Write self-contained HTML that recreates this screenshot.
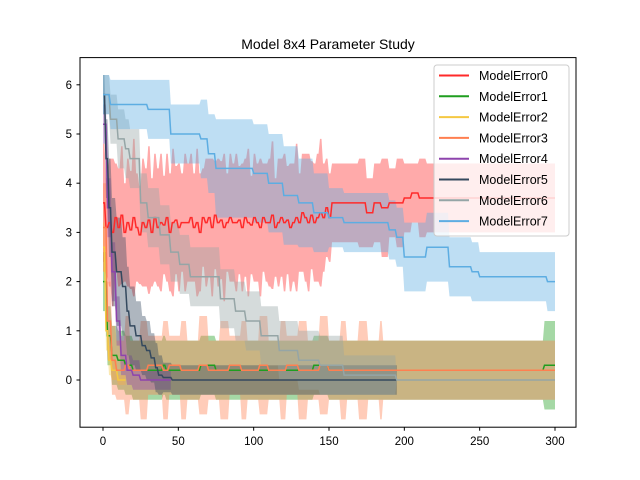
<!DOCTYPE html>
<html><head><meta charset="utf-8"><style>
body{margin:0;background:#fff}
svg{display:block;font-family:"Liberation Sans","DejaVu Sans",sans-serif}
</style></head><body>
<svg id="chart" width="640" height="480">
<rect width="640" height="480" fill="#fff"/>
<text x="328" y="49" text-anchor="middle" font-size="14">Model 8x4 Parameter Study</text>
<g id="bands"></g><g id="lines"></g>
<rect x="80" y="57.6" width="496" height="369.6" fill="none" stroke="#000" stroke-width="1"/>
<g id="ticks" font-size="11.5"></g>
<g id="legend"></g>
</svg>
<script>
const seriesNames=["ModelError0","ModelError1","ModelError2","ModelError3","ModelError4","ModelError5","ModelError6","ModelError7"];
const seriesColors=["#ff2a2a","#1f9e1f","#f5c842","#ff7f50","#8e44ad","#34495e","#95a5a6","#5dade2"];
const xTicks=[0,50,100,150,200,250,300];
const yTicks=[0,1,2,3,4,5,6];
// ModelError0 early part: values every 2 iterations from 0 to 150
const s0early=[3.6,3.1,3.2,3.0,3.3,3.1,3.35,3.0,3.2,3.05,3.3,3.1,2.95,3.2,3.1,3.25,3.0,3.3,3.1,3.2,3.15,3.3,3.0,3.2,3.25,3.1,3.2,3.2,3.2,3.3,3.1,3.2,3.0,3.3,3.2,3.3,3.1,3.35,3.2,3.25,3.1,3.2,3.3,3.2,3.2,3.25,3.1,3.3,3.2,3.15,3.3,3.2,3.1,3.3,3.2,3.2,3.35,3.1,3.2,3.3,3.2,3.25,3.1,3.2,3.3,3.2,3.4,3.3,3.2,3.35,3.2,3.3,3.4,3.3,3.5,3.3];
const s0earlyStd=[1.2,1.0,1.3,1.5,1.1,1.2,1.4,1.0,1.3,1.2,1.6,1.1,1.0,1.3,1.2,1.5,1.1,1.3,1.2,1.4,1.0,1.3,1.2,1.5,1.1,1.3,1.0,1.4,1.2,1.3,1.1,1.5,1.2,1.0,1.3,1.2,1.4,1.1,1.3,1.2,1.5,1.0,1.3,1.2,1.4,1.1,1.3,1.2,1.5,1.0,1.3,1.2,1.4,1.1,1.2,1.3,1.5,1.0,1.3,1.2,1.4,1.1,1.3,1.2,1.5,1.0,1.2,1.3,1.4,1.1,1.2,1.3,1.5,1.1,1.0,0.9];
const s0tailX=[152,170,175,180,185,190,195,200,205,210,215,300];
const s0tailM=[3.6,3.6,3.4,3.6,3.5,3.6,3.6,3.7,3.8,3.7,3.7,3.7];
const s0tailS=[0.8,0.9,0.7,0.8,1.0,0.7,0.9,0.7,0.6,0.8,0.7,0.7];
const s1x=[0,3,6,10,15,20,40,42,45,60,65,75,100,120,140,150,290,293,300];
const s1m=[2.0,0.9,0.5,0.4,0.3,0.2,0.3,0.2,0.2,0.2,0.3,0.2,0.2,0.2,0.3,0.2,0.2,0.3,0.3];
const s1s=[0.6,0.6,0.6,0.6,0.6,0.6,0.6,0.6,0.6,0.6,0.6,0.6,0.6,0.6,0.6,0.6,0.6,0.9,0.9];
const s2x=[0,2,4,6,10,15];
const s2m=[2.7,1.0,0.4,0.2,0.0,0.0];
const s2s=[0.5,0.4,0.3,0.2,0.1,0.1];
const s3x=[0,3,6,9,15,18,25,30,40,44,52,56,64,70,78,84,92,96,104,110,118,122,130,136,144,150,158,162,170,176,184,186,300];
const s3m=[3.1,1.2,0.4,0.2,0.3,0.2,0.2,0.3,0.2,0.3,0.2,0.2,0.3,0.2,0.2,0.3,0.2,0.2,0.3,0.2,0.2,0.3,0.2,0.2,0.3,0.2,0.2,0.2,0.2,0.2,0.2,0.2,0.2];
const s3s=[0.9,0.8,0.7,0.6,1.0,0.6,1.0,0.6,1.0,0.6,1.0,0.6,1.0,0.6,1.0,0.6,1.0,0.6,1.0,0.6,1.0,0.6,1.0,0.6,1.0,0.6,1.0,0.6,1.0,0.6,1.0,0.6,0.6];
const s4x=[0,3,6,9,12,16,20,25,45];
const s4m=[5.2,3.5,2.2,1.2,0.5,0.2,0.1,0.0,0.0];
const s4s=[0.4,0.6,0.6,0.5,0.4,0.3,0.3,0.2,0.2];
const s5x=[0,2,4,6,9,13,16,18,22,26,29,32,35,37,40,46,195];
const s5m=[5.8,4.5,3.5,2.6,2.2,1.9,1.4,1.1,0.9,0.7,0.6,0.45,0.25,0.1,0.05,0.0,0.0];
const s5s=[0.4,0.8,1.0,1.1,1.1,1.0,0.9,0.8,0.7,0.6,0.6,0.5,0.5,0.4,0.3,0.3,0.3];
const s6x=[0,5,10,15,18,25,30,38,45,51,58,68,78,88,95,105,117,130,144,160,195,300];
const s6m=[5.8,5.3,4.9,4.7,4.5,3.6,3.3,2.95,2.6,2.35,2.1,2.1,1.65,1.4,1.2,0.9,0.6,0.4,0.3,0.1,0.0,0.0];
const s6s=[0.4,0.5,0.6,0.6,0.6,0.6,0.6,0.6,0.6,0.6,0.6,0.6,0.6,0.6,0.6,0.6,0.6,0.6,0.6,0.4,0.0,0.0];
const s7x=[0,5,30,45,65,70,75,100,110,120,130,140,150,160,180,190,195,200,215,230,235,245,250,295,300];
const s7m=[5.8,5.6,5.5,5.0,4.9,4.6,4.3,4.2,4.0,3.75,3.6,3.4,3.3,3.2,3.2,3.05,2.9,2.5,2.7,2.3,2.3,2.2,2.1,2.0,2.0];
const s7s=[0.4,0.5,0.6,0.6,0.8,0.8,1.0,1.0,1.0,1.0,0.9,0.8,0.6,0.6,0.6,0.6,0.6,0.7,0.7,0.6,0.6,0.6,0.5,0.6,0.6];
const s0x=s0early.map((v,i)=>i*2).concat(s0tailX);
const s0m=s0early.concat(s0tailM);
const s0s=s0earlyStd.concat(s0tailS);
const allX=[s0x,s1x,s2x,s3x,s4x,s5x,s6x,s7x],allM=[s0m,s1m,s2m,s3m,s4m,s5m,s6m,s7m],allS=[s0s,s1s,s2s,s3s,s4s,s5s,s6s,s7s];
const NS="http://www.w3.org/2000/svg";
const X=v=>103+v*(452/300), Y=v=>380-v*49.2;
const bands=document.getElementById('bands'),lines=document.getElementById('lines'),ticks=document.getElementById('ticks'),legend=document.getElementById('legend');
function dense(xs,vs){const out=[];const end=xs[xs.length-1];let k=0;for(let x=xs[0];x<=end;x++){while(k<xs.length-1&&xs[k+1]<=x)k++;out.push([x,vs[k]]);}return out;}
for(let i=0;i<8;i++){
  const m=dense(allX[i],allM[i]),s=dense(allX[i],allS[i]);
  const up=m.map((p,j)=>X(p[0]).toFixed(1)+','+Y(p[1]+s[j][1]).toFixed(1));
  const lo=m.map((p,j)=>X(p[0]).toFixed(1)+','+Y(p[1]-s[j][1]).toFixed(1)).reverse();
  const b=document.createElementNS(NS,'polygon');
  b.setAttribute('points',up.concat(lo).join(' '));
  b.setAttribute('fill',seriesColors[i]);b.setAttribute('fill-opacity','0.4');b.setAttribute('stroke','none');
  
  
  bands.appendChild(b);
  const l=document.createElementNS(NS,'polyline');
  l.setAttribute('points',m.map(p=>X(p[0]).toFixed(1)+','+Y(p[1]).toFixed(1)).join(' '));
  l.setAttribute('fill','none');l.setAttribute('stroke',seriesColors[i]);l.setAttribute('stroke-width','1.5');
  
  
  lines.appendChild(l);
}
xTicks.forEach(v=>{
  const t=document.createElementNS(NS,'line');t.setAttribute('x1',X(v));t.setAttribute('x2',X(v));t.setAttribute('y1',427.2);t.setAttribute('y2',430.7);t.setAttribute('stroke','#000');
  
  
  ticks.appendChild(t);
  const tx=document.createElementNS(NS,'text');tx.setAttribute('x',X(v));tx.setAttribute('y',445);tx.setAttribute('text-anchor','middle');tx.textContent=v;
  
  
  ticks.appendChild(tx);
});
yTicks.forEach(v=>{
  const t=document.createElementNS(NS,'line');t.setAttribute('x1',76.5);t.setAttribute('x2',80);t.setAttribute('y1',Y(v));t.setAttribute('y2',Y(v));t.setAttribute('stroke','#000');
  
  
  ticks.appendChild(t);
  const tx=document.createElementNS(NS,'text');tx.setAttribute('x',72);tx.setAttribute('y',Y(v)+4);tx.setAttribute('text-anchor','end');tx.textContent=v;
  
  
  ticks.appendChild(tx);
});
const box=document.createElementNS(NS,'rect');
box.setAttribute('x',434);box.setAttribute('y',65);box.setAttribute('width',135);box.setAttribute('height',171);box.setAttribute('rx',3);
box.setAttribute('fill','#fff');box.setAttribute('fill-opacity','0.8');box.setAttribute('stroke','#ccc');


legend.appendChild(box);
seriesNames.forEach((n,i)=>{
  const y=75.5+i*20.8;
  const l=document.createElementNS(NS,'line');l.setAttribute('x1',439);l.setAttribute('x2',469);l.setAttribute('y1',y);l.setAttribute('y2',y);l.setAttribute('stroke',seriesColors[i]);l.setAttribute('stroke-width','2');
  
  
  legend.appendChild(l);
  const t=document.createElementNS(NS,'text');t.setAttribute('x',479);t.setAttribute('y',y+4.5);t.setAttribute('font-size','12.5');t.textContent=n;
  
  
  legend.appendChild(t);
});
</script>
</body></html>
